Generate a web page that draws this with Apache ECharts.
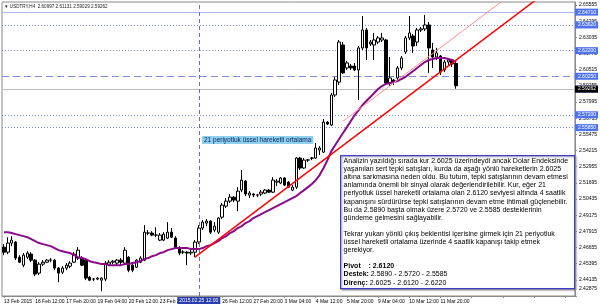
<!DOCTYPE html>
<html><head><meta charset="utf-8">
<script src="https://cdn.jsdelivr.net/npm/echarts@6.0.0/dist/echarts.min.js"></script>
<style>html,body{margin:0;padding:0;background:#fff}#c{width:600px;height:308px}</style>
</head><body><div id="c"></div>
<script>
// ---------- data ----------
const symbolInfo = 'USDTRY,H4';
const lastOHLC = [2.60997, 2.61131, 2.59029, 2.59262];
// one label every 8 H4 bars (bar 48 label hidden behind the time marker)
const tickLabels = ['13 Feb 2015','16 Feb 12:00','17 Feb 20:00','19 Feb 04:00','20 Feb 12:00','23 Feb 20:00','',
  '26 Feb 12:00','27 Feb 20:00','3 Mar 04:00','4 Mar 12:00','5 Mar 20:00','9 Mar 04:00','10 Mar 12:00','11 Mar 20:00'];
// [open, close, low, high]
const candles = [
[2.4668,2.4629,2.4606,2.4692],[2.4629,2.4700,2.4614,2.4746],[2.4700,2.4723,2.4676,2.4754],[2.4708,2.4583,2.4567,2.4715],
[2.4590,2.4551,2.4544,2.4606],[2.4528,2.4606,2.4512,2.4622],[2.4590,2.4622,2.4575,2.4637],[2.4614,2.4567,2.4551,2.4629],
[2.4567,2.4458,2.4442,2.4575],[2.4466,2.4536,2.4450,2.4551],[2.4536,2.4551,2.4520,2.4567],[2.4551,2.4567,2.4544,2.4575],
[2.4567,2.4568,2.4551,2.4583],[2.4567,2.4505,2.4489,2.4575],[2.4505,2.4466,2.4395,2.4512],[2.4473,2.4505,2.4458,2.4520],
[2.4505,2.4528,2.4489,2.4544],[2.4520,2.4544,2.4505,2.4559],[2.4551,2.4614,2.4544,2.4629],[2.4583,2.4645,2.4567,2.4668],
[2.4583,2.4528,2.4520,2.4598],[2.4567,2.4427,2.4411,2.4575],[2.4434,2.4411,2.4403,2.4442],[2.4419,2.4420,2.4403,2.4427],
[2.4419,2.4427,2.4411,2.4434],[2.4411,2.4427,2.4325,2.4434],[2.4419,2.4544,2.4403,2.4559],[2.4536,2.4551,2.4520,2.4567],
[2.4551,2.4559,2.4536,2.4567],[2.4544,2.4567,2.4528,2.4575],[2.4567,2.4551,2.4528,2.4583],[2.4544,2.4645,2.4528,2.4668],
[2.4590,2.4489,2.4473,2.4598],[2.4528,2.4489,2.4473,2.4536],[2.4512,2.4567,2.4505,2.4575],[2.4551,2.4583,2.4544,2.4598],
[2.4567,2.4785,2.4559,2.4840],[2.4778,2.4779,2.4762,2.4801],[2.4778,2.4762,2.4754,2.4793],[2.4762,2.4763,2.4746,2.4824],
[2.4723,2.4762,2.4715,2.4778],[2.4723,2.4770,2.4715,2.4785],[2.4739,2.4785,2.4731,2.4863],[2.4785,2.4746,2.4739,2.4817],
[2.4739,2.4668,2.4661,2.4754],[2.4661,2.4622,2.4606,2.4676],[2.4629,2.4630,2.4614,2.4645],[2.4629,2.4622,2.4528,2.4637],
[2.4622,2.4629,2.4606,2.4653],[2.4629,2.4708,2.4590,2.4723],
[2.4708,2.4817,2.4692,2.4840],[2.4817,2.4863,2.4801,2.4879],[2.4856,2.4871,2.4832,2.4887],[2.4871,2.4785,2.4770,2.4879],
[2.4801,2.4832,2.4785,2.4863],[2.4785,2.4895,2.4770,2.4902],[2.4902,2.4996,2.4887,2.5012],[2.4988,2.5027,2.4973,2.5051],
[2.5027,2.5058,2.5012,2.5082],[2.5058,2.5035,2.5019,2.5066],[2.5027,2.5105,2.4949,2.5136],[2.5113,2.5191,2.5097,2.5269],
[2.5183,2.5082,2.5066,2.5191],[2.5074,2.5090,2.5051,2.5105],[2.5082,2.5074,2.5058,2.5090],[2.5074,2.5075,2.5058,2.5082],
[2.5082,2.5097,2.5066,2.5113],[2.5090,2.5113,2.5082,2.5121],[2.5113,2.5097,2.5090,2.5121],[2.5097,2.5191,2.5090,2.5214],
[2.5175,2.5183,2.5144,2.5199],[2.5168,2.5207,2.5160,2.5214],[2.5207,2.5152,2.5144,2.5214],[2.5175,2.5136,2.5129,2.5183],
[2.5113,2.5136,2.5105,2.5152],[2.5136,2.5363,2.5121,2.5370],[2.5363,2.5285,2.5269,2.5370],[2.5285,2.5347,2.5277,2.5363],
[2.5347,2.5348,2.5331,2.5355],[2.5363,2.5362,2.5347,2.5370],[2.5363,2.5441,2.5355,2.5480],[2.5425,2.5441,2.5386,2.5456],
[2.5409,2.5643,2.5402,2.5667],[2.5643,2.5628,2.5620,2.5651],[2.5620,2.5854,2.5612,2.5870],[2.5854,2.5971,2.5838,2.5994],
[2.5955,2.6267,2.5932,2.6283],[2.6244,2.6026,2.6018,2.6267],[2.6065,2.6104,2.6049,2.6119],[2.6080,2.6065,2.6049,2.6096],
[2.6080,2.6049,2.6041,2.6104],[2.6049,2.6221,2.5815,2.6236],[2.6221,2.6361,2.6205,2.6470],[2.6361,2.6221,2.6127,2.6377],
[2.6252,2.6267,2.6236,2.6283],[2.6244,2.6283,2.6127,2.6338],[2.6267,2.6299,2.6252,2.6314],[2.6283,2.6299,2.6267,2.6338],
[2.6283,2.5948,2.5932,2.6291],[2.5948,2.5987,2.5924,2.6150],[2.5971,2.5955,2.5932,2.5979],[2.5987,2.6065,2.5971,2.6080],
[2.6065,2.6143,2.6049,2.6158],[2.6189,2.6299,2.6174,2.6314],[2.6299,2.6338,2.6283,2.6470],[2.6314,2.6236,2.6182,2.6330],
[2.6267,2.6361,2.6236,2.6377],[2.6361,2.6369,2.6345,2.6384],[2.6369,2.6400,2.6353,2.6478],[2.6400,2.6221,2.6026,2.6423],
[2.6205,2.6150,2.6065,2.6260],[2.6150,2.6182,2.6127,2.6221],[2.6158,2.6033,2.6010,2.6166],[2.6049,2.6111,2.6033,2.6127],
[2.6111,2.6127,2.6088,2.6135],[2.6127,2.6096,2.6072,2.6135],[2.60997,2.59262,2.59029,2.61131]
];
// 21-period exponential moving average
const ema21 = [
2.4785,2.4785,2.4778,2.4770,2.4762,2.4754,2.4746,2.4731,2.4715,2.4700,
2.4692,2.4684,2.4676,2.4661,2.4645,2.4637,2.4629,2.4622,2.4606,2.4590,
2.4583,2.4575,2.4559,2.4551,2.4544,2.4536,2.4536,2.4528,2.4528,2.4528,
2.4528,2.4536,2.4536,2.4544,2.4551,2.4559,2.4575,2.4583,2.4598,2.4606,
2.4622,2.4629,2.4645,2.4653,2.4661,2.4661,2.4661,2.4661,2.4653,2.4653,
2.4653,2.4661,2.4676,2.4684,2.4700,2.4715,2.4739,2.4754,2.4778,2.4793,
2.4817,2.4832,2.4856,2.4871,2.4895,2.4910,2.4926,2.4941,2.4957,2.4973,
2.4988,2.5004,2.5019,2.5035,2.5051,2.5066,2.5090,2.5113,2.5136,2.5160,
2.5191,2.5230,2.5285,2.5347,2.5417,2.5464,2.5511,2.5558,2.5604,2.5651,
2.5698,2.5737,2.5776,2.5807,2.5838,2.5870,2.5901,2.5924,2.5940,2.5948,
2.5955,2.5963,2.5979,2.5994,2.6018,2.6041,2.6065,2.6088,2.6111,2.6127,
2.6135,2.6143,2.6143,2.6143,2.6135,2.6127,2.6111
];
// trend lines: [bar index, price]
const trendMain = [[49, 2.4590], [140, 2.6676]];
const trendParallel = [[87, 2.5650], [140, 2.6865]];
// horizontal levels (support / resistance)
const levels = [2.64710, 2.63620, 2.62200, 2.60250, 2.58900, 2.57200, 2.55850];
const levelKinds = ['solid', 'dotted', 'dotted', 'dashed', 'dotted', 'dotted', 'dotted'];
const markerBar = 50;
const markerLabel = '2015.02.25 12:00';
const emaLabel = '21 periyotluk üssel hareketli ortalama';
const noteLines = [
'Analizin yazıldığı sırada kur 2.6025 üzerindeydi ancak Dolar Endeksinde',
'yaşanılan sert tepki satışları, kurda da aşağı yönlü hareketlerin 2.6025',
'altına sarkmasına neden oldu. Bu tutum, tepki satışlarının devam etmesi',
'anlamında önemli bir sinyal olarak değerlendirilebilir. Kur, eğer 21',
'periyotluk üssel hareketli ortalama olan 2.6120 seviyesi altında 4 saatlik',
'kapanışını sürdürürse tepki satışlarının devam etme ihtimali güçlenebilir.',
'Bu da 2.5890 başta olmak üzere 2.5720 ve 2.5585 desteklerinin',
'gündeme gelmesini sağlayabilir.',
'',
'Tekrar yukarı yönlü çıkış beklentisi içerisine girmek için 21 periyotluk',
'üssel hareketli ortalama üzerinde 4 saatlik kapanışı takip etmek',
'gerekiyor.',
''
];
const pivot = '2.6120';
const supports = ['2.5890', '2.5720', '2.5585'];
const resistances = ['2.6025', '2.6120', '2.6220'];
const yMin = 2.42875, yMax = 2.6579, yStep = 0.0126;
const nSlots = 147;

// ---------- chart ----------
const FONT = 'Liberation Sans';
const AX = 5;
const cats = Array.from({length: nSlots}, (_, i) => String(i));
const dashFor = k => k === 'dotted' ? [1, 2] : (k === 'dashed' ? [7, 4] : 'solid');
const tagLabel = (txt, bg) => ({show: true, position: 'end', distance: 0, formatter: txt, color: '#fff', backgroundColor: bg,
          fontSize: AX, fontFamily: FONT, padding: [1, 2, 1, 3]});
const levelLines = levels.map((v, i) => ({
  yAxis: v,
  lineStyle: {color: levelKinds[i] === 'solid' ? '#a9b8ee' : '#7f8fe0', width: 1, type: dashFor(levelKinds[i])},
  label: tagLabel(v.toFixed(5), '#4f73f0')
}));
levelLines.push({
  yAxis: lastOHLC[3],
  lineStyle: {color: '#c0c0c0', width: 1, type: 'solid'},
  label: tagLabel(lastOHLC[3].toFixed(5), '#000')
});
levelLines.push({
  xAxis: String(markerBar),
  lineStyle: {color: '#6a6ad8', width: 1, type: [4, 3]},
  label: {show: true, position: 'start', distance: 1, formatter: markerLabel, color: '#fff', backgroundColor: '#2a3cae',
          fontSize: AX, fontFamily: FONT, padding: [1, 2, 1, 2]}
});

const bold = {fontWeight: 'bold', fontSize: 7, fontFamily: FONT, lineHeight: 8.1, fill: '#000'};
const noteText = noteLines.join('\n') + '\n' +
  '{b|Pivot    : ' + pivot + '}\n' +
  '{b|Destek:} ' + supports.join(' - ') + '\n' +
  '{b|Direnç:} ' + resistances.join(' - ');

const option = {
  animation: false,
  backgroundColor: '#fff',
  grid: {left: 2, right: 22, top: 2, bottom: 12, show: true, borderColor: '#8a8a8a', borderWidth: 1, containLabel: false},
  xAxis: {
    type: 'category', data: cats, boundaryGap: true,
    axisLine: {show: true, lineStyle: {color: '#8a8a8a'}},
    axisTick: {show: true, interval: 7, alignWithLabel: true, length: 2, lineStyle: {color: '#8a8a8a'}},
    axisLabel: {interval: 7, formatter: (v, i) => tickLabels[i / 8] || '', align: 'left', fontSize: AX,
                fontFamily: FONT, color: '#000', margin: 3},
    splitLine: {show: false}
  },
  yAxis: {
    type: 'value', position: 'right', min: yMin, max: yMax, interval: yStep,
    axisLine: {show: true, lineStyle: {color: '#8a8a8a'}},
    axisTick: {show: true, length: 2, lineStyle: {color: '#8a8a8a'}},
    axisLabel: {formatter: v => Math.abs(v - yMin) < 1e-6 ? '{m|' + v.toFixed(5) + '}' : v.toFixed(5),
                rich: {m: {fontSize: AX, fontFamily: FONT, color: '#000', padding: [0, 0, 15, 0]}},
                fontSize: AX, fontFamily: FONT, color: '#000', margin: 4, showMaxLabel: false},
    splitLine: {show: false}
  },
  series: [
    {
      type: 'candlestick', data: candles, barWidth: 3, z: 3,
      itemStyle: {color: '#ffffff', color0: '#000000', borderColor: '#000000', borderColor0: '#000000', borderWidth: 1},
      markLine: {symbol: 'none', silent: true, animation: false, z: 1, data: levelLines}
    },
    {type: 'line', data: ema21, showSymbol: false, symbol: 'none', z: 4,
     lineStyle: {color: '#8b0a8b', width: 2}},
    {type: 'line', data: trendMain, showSymbol: false, symbol: 'none', z: 5, clip: true,
     lineStyle: {color: '#ff0000', width: 1.5}},
    {type: 'line', data: trendParallel, showSymbol: false, symbol: 'none', z: 5, clip: true,
     lineStyle: {color: '#ff8f8f', width: 1}}
  ],
  graphic: [
    {type: 'text', left: 4, top: 4, z: 10,
     style: {text: '▼ ' + symbolInfo + '  ' + lastOHLC.map(v => v.toFixed(5)).join(' '), fontSize: 4.6,
             fontFamily: FONT, fill: '#222'}},
    {type: 'text', left: 202, top: 136, z: 10,
     style: {text: emaLabel, fontSize: 6.5, fontFamily: FONT, fill: '#10206a', backgroundColor: '#8fd0ec',
             padding: [1, 2, 0, 2]}},
    {type: 'group', left: 340, top: 155, z: 20, children: [
      {type: 'rect', shape: {x: 0, y: 0, width: 234, height: 133},
       style: {fill: '#fff', stroke: '#3d3dc8', lineWidth: 1.2, shadowBlur: 2, shadowColor: 'rgba(0,0,0,0.35)',
               shadowOffsetX: 1, shadowOffsetY: 1}},
      {type: 'text', x: 3, y: 1.5,
       style: {text: noteText, fontSize: 7, fontFamily: FONT, lineHeight: 8.1, fill: '#000', rich: {b: bold}}}
    ]}
  ]
};
const chart = echarts.init(document.getElementById('c'));
chart.setOption(option);
</script>
</body></html>
